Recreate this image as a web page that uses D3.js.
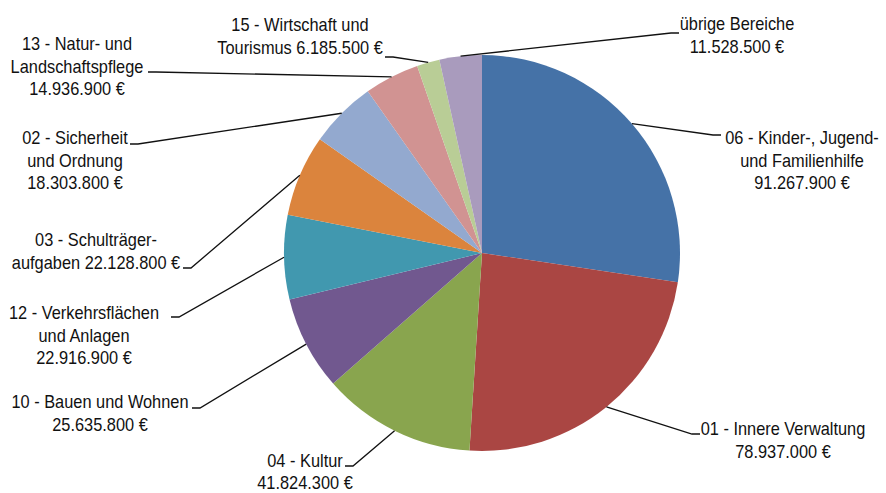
<!DOCTYPE html>
<html><head><meta charset="utf-8">
<script src="https://cdn.jsdelivr.net/npm/d3@7"></script>
<style>html,body{margin:0;padding:0;background:#fff;}svg{display:block;}</style>
</head><body>
<svg id="chart" width="886" height="493"></svg>
<script>
// ---- data ----
const categories = [
  "06 - Kinder-, Jugend- und Familienhilfe",
  "01 - Innere Verwaltung",
  "04 - Kultur",
  "10 - Bauen und Wohnen",
  "12 - Verkehrsflächen und Anlagen",
  "03 - Schulträgeraufgaben",
  "02 - Sicherheit und Ordnung",
  "13 - Natur- und Landschaftspflege",
  "15 - Wirtschaft und Tourismus",
  "übrige Bereiche"
];
const values = [91267900, 78937000, 41824300, 25635800, 22916900, 22128800, 18303800, 14936900, 6185500, 11528500];
const labelLines = [
  ["06 - Kinder-, Jugend-", "und Familienhilfe", "{v}"],
  ["01 - Innere Verwaltung", "{v}"],
  ["04 - Kultur", "{v}"],
  ["10 - Bauen und Wohnen", "{v}"],
  ["12 - Verkehrsflächen", "und Anlagen", "{v}"],
  ["03 - Schulträger-", "aufgaben {v}"],
  ["02 - Sicherheit", "und Ordnung", "{v}"],
  ["13 - Natur- und", "Landschaftspflege", "{v}"],
  ["15 - Wirtschaft und", "Tourismus {v}"],
  ["übrige Bereiche", "{v}"]
];
const colors = ["#4572A7", "#AA4643", "#89A54E", "#71588F", "#4198AF", "#DB843D", "#93A9CF", "#D19392", "#B9CD96", "#A99BBD"];

// ---- layout (label placement) ----
const labelLayout = [
  {cx: 802, y0: 138, ox: 721, oy: 135, side: 1, lh: 22.5},
  {cx: 783, y0: 429, ox: 700, oy: 434, side: 1, lh: 22.5},
  {cx: 305, y0: 461, ox: 345, oy: 466, side: -1, lh: 21.5},
  {cx: 100, y0: 402, ox: 192, oy: 408, side: -1, lh: 22.5},
  {cx: 84,  y0: 313, ox: 171, oy: 317, side: -1, lh: 22.5},
  {cx: 96,  y0: 240, ox: 183, oy: 268, side: -1, lh: 22.5},
  {cx: 75,  y0: 138, ox: 130, oy: 144, side: -1, lh: 22.5},
  {cx: 77,  y0: 44,  ox: 148, oy: 72,  side: -1, lh: 22.5},
  {cx: 300, y0: 25,  ox: 385, oy: 57,  side: -1, lh: 22.5},
  {cx: 737, y0: 24,  ox: 679, oy: 33,  side: 1, lh: 22.5}
];

const cx = 482, cy = 253, r = 198;
const fontSize = 17.7, squeeze = 0.925;

const de = d3.formatLocale({decimal: ",", thousands: ".", grouping: [3], currency: ["", " €"]});
const fmt = v => de.format(",")(v) + " €";

const svg = d3.select("#chart");
const g = svg.append("g").attr("transform", `translate(${cx},${cy})`);

const pie = d3.pie().sort(null).value(d => d)(values);
const arc = d3.arc().innerRadius(0).outerRadius(r);

g.selectAll("path.slice").data(pie).join("path")
  .attr("class", "slice")
  .attr("d", arc)
  .attr("fill", (d, i) => colors[i]);

// leader lines
pie.forEach((d, i) => {
  const L = labelLayout[i];
  const a = (d.startAngle + d.endAngle) / 2;
  const px = cx + r * Math.sin(a), py = cy - r * Math.cos(a);
  const ix = L.ox - L.side * 8;
  svg.append("polyline")
    .attr("points", `${px},${py} ${ix},${L.oy} ${L.ox},${L.oy}`)
    .attr("fill", "none").attr("stroke", "#111").attr("stroke-width", 1.3);
});

// labels
pie.forEach((d, i) => {
  const L = labelLayout[i];
  labelLines[i].forEach((t, k) => {
    svg.append("text")
      .attr("transform", `translate(${L.cx},${L.y0 + k * L.lh + 6.3}) scale(${squeeze},1)`)
      .attr("text-anchor", "middle")
      .attr("font-family", "'Liberation Sans', Arial, sans-serif")
      .attr("font-size", fontSize)
      .attr("fill", "#111")
      .text(t.replace("{v}", fmt(values[i])));
  });
});
</script>
</body></html>
